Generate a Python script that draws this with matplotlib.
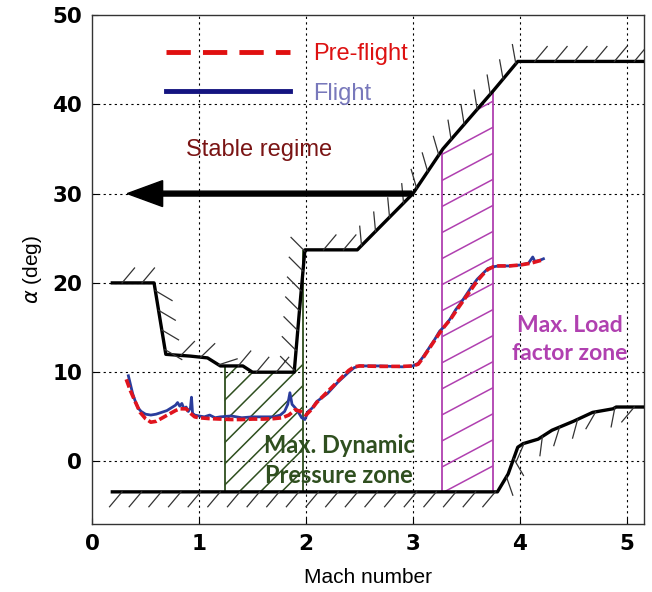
import numpy as np
import matplotlib
matplotlib.use("Agg")
import matplotlib.pyplot as plt
import matplotlib.patheffects as pe
from matplotlib.patches import Polygon
from matplotlib.lines import Line2D

plt.rcParams['font.family'] = ['Liberation Sans', 'DejaVu Sans']

# flight (blue) trace
flight_m = [0.34, 0.36, 0.38, 0.40, 0.43, 0.46, 0.50, 0.55, 0.60, 0.65, 0.70, 0.74, 0.78, 0.80,
            0.82, 0.84, 0.86, 0.88, 0.90, 0.92, 0.93, 0.94, 0.96, 1.00, 1.05, 1.10, 1.15, 1.20,
            1.30, 1.40, 1.50, 1.60, 1.70, 1.76, 1.80, 1.83, 1.85, 1.87, 1.90, 1.93, 1.96, 1.99,
            2.02, 2.06, 2.10, 2.20, 2.30, 2.40, 2.45, 2.50, 2.70, 2.90, 3.00, 3.05, 3.10, 3.15,
            3.20, 3.25, 3.30, 3.35, 3.40, 3.45, 3.50, 3.55, 3.60, 3.65, 3.70, 3.75, 3.80, 3.90,
            4.00, 4.08, 4.12, 4.14, 4.18, 4.22]
flight_a = [9.6, 8.6, 7.6, 6.9, 6.0, 5.6, 5.3, 5.2, 5.3, 5.5, 5.7, 6.0, 6.3, 6.6,
            6.2, 6.5, 5.9, 6.1, 5.6, 6.0, 7.2, 5.4, 5.2, 5.1, 5.0, 5.2, 4.9, 5.0,
            5.1, 4.9, 5.0, 5.0, 5.0, 5.2, 5.6, 6.4, 7.7, 6.4, 6.0, 5.5, 4.9, 4.7,
            5.6, 6.0, 6.7, 7.6, 8.9, 10.0, 10.5, 10.7, 10.7, 10.6, 10.7, 11.0, 11.8, 12.7,
            13.6, 14.6, 15.2, 16.0, 17.0, 17.8, 18.7, 19.6, 20.4, 21.0, 21.6, 21.8, 21.9, 21.9,
            22.0, 22.2, 22.9, 22.4, 22.5, 22.7]

# pre-flight (red) prediction
pre_m = [0.32, 0.36, 0.40, 0.45, 0.50, 0.55, 0.60, 0.66, 0.72, 0.78, 0.82, 0.88, 0.92, 0.96,
         1.00, 1.10, 1.20, 1.30, 1.40, 1.50, 1.60, 1.70, 1.78, 1.84, 1.90, 1.95, 2.00, 2.05,
         2.10, 2.20, 2.30, 2.40, 2.45, 2.50, 2.70, 2.90, 3.00, 3.05, 3.10, 3.15, 3.20, 3.25,
         3.30, 3.35, 3.40, 3.50, 3.60, 3.65, 3.70, 3.75, 3.80, 3.90, 4.00, 4.10, 4.16, 4.22]
pre_a = [9.2, 7.9, 6.8, 5.5, 4.8, 4.4, 4.5, 4.9, 5.3, 5.7, 5.9, 5.9, 5.4, 5.0,
         4.9, 4.8, 4.75, 4.7, 4.7, 4.75, 4.75, 4.8, 4.9, 5.2, 5.8, 5.6, 5.2, 5.8,
         6.6, 7.8, 9.0, 10.2, 10.6, 10.7, 10.65, 10.65, 10.7, 10.9, 11.7, 12.6, 13.5, 14.4,
         15.2, 15.9, 16.8, 18.5, 20.2, 20.9, 21.5, 21.8, 21.9, 21.9, 22.0, 22.2, 22.4, 22.6]

# stability limits
upper_m = [0.19, 0.58, 0.69, 0.92, 1.08, 1.20, 1.41, 1.50, 1.89, 1.94, 1.99, 2.48, 3.00, 3.28, 3.75, 3.98, 5.16]
upper_a = [20, 20, 12, 11.8, 11.6, 10.7, 10.7, 10, 10, 17, 23.7, 23.7, 30, 35, 41.5, 44.8, 44.8]
lower_m = [0.19, 3.79, 3.89, 3.98, 4.03, 4.17, 4.30, 4.50, 4.68, 4.87, 4.90, 5.16]
lower_a = [-3.4, -3.4, -1.4, 1.6, 2.0, 2.5, 3.5, 4.5, 5.5, 5.9, 6.1, 6.1]

# zones
dyn_m = [1.24, 1.41, 1.50, 1.89, 1.97]
dyn_top = [10.7, 10.7, 10.0, 10.0, 12.0]
load_m = [3.27, 3.75]
zone_floor = -3.4

fig = plt.figure(figsize=(6.52, 5.92), dpi=100)
ax = fig.add_axes([92/652, 68/592, 552/652, 509/592])
ax.set_xlim(0, 5.16)
ax.set_ylim(-7, 50)


def hatch_zone(ax, xs, top, bottom, color, angle, step):
    verts = list(zip(xs, top)) + [(xs[-1], bottom), (xs[0], bottom)]
    clip = Polygon(verts, closed=True, fc='none', ec='none')
    ax.add_patch(clip)
    p0 = ax.transData.transform((0, 0))
    p1 = ax.transData.transform((1, 1))
    sx, sy = p1 - p0
    slope = np.tan(np.radians(angle)) * sx / sy
    dy = step / np.cos(np.radians(angle)) / sy
    x0, x1 = xs[0], xs[-1]
    for c in np.arange(bottom - slope * (x1 - x0), max(top) + dy, dy):
        ln, = ax.plot([x0, x1], [c, c + slope * (x1 - x0)], color=color, lw=1.1, zorder=2)
        ln.set_clip_path(clip)


green = '#2f4f1f'
magenta = '#b040b0'
hatch_zone(ax, dyn_m, dyn_top, zone_floor, green, 45, 15)
ax.vlines(dyn_m[0], zone_floor, dyn_top[0], color=green, lw=1.3, zorder=2)
ax.vlines(dyn_m[-1], zone_floor, 23.7, color=green, lw=1.3, zorder=2)

load_top = list(np.interp(load_m, upper_m, upper_a))
hatch_zone(ax, load_m, load_top, zone_floor, magenta, 28, 23)
ax.vlines(load_m[0], zone_floor, load_top[0], color=magenta, lw=1.3, zorder=2)
ax.vlines(load_m[-1], zone_floor, load_top[-1], color=magenta, lw=1.3, zorder=2)

# grid
for v in [1, 2, 3, 4, 5]:
    ax.axvline(v, color='k', lw=0.8, ls=(0, (2, 3)), zorder=1)
for v in [0, 10, 20, 30, 40]:
    ax.axhline(v, color='k', lw=0.8, ls=(0, (2, 3)), zorder=1)

# limits with hatched ticks
ax.plot(upper_m, upper_a, color='k', lw=2.4, zorder=4)
ax.plot(upper_m, upper_a, color='k', lw=0, zorder=4,
        path_effects=[pe.TickedStroke(angle=50, spacing=14, length=1.0, linewidth=0.9, foreground='#333333')])
ax.plot(lower_m, lower_a, color='k', lw=2.4, zorder=4)
ax.plot(lower_m, lower_a, color='k', lw=0, zorder=4,
        path_effects=[pe.TickedStroke(angle=-130, spacing=14, length=1.0, linewidth=0.9, foreground='#333333')])

# stable regime arrow
ax.arrow(2.99, 30, -2.66, 0, width=0.55, head_width=2.9, head_length=0.33,
         length_includes_head=True, fc='k', ec='k', zorder=4)
ax.text(1.56, 34.9, 'Stable regime', color='#7a1414', fontsize=17, va='center', ha='center')

# traces
ax.plot(flight_m, flight_a, color='#2a3c9c', lw=2.0, zorder=5)
ax.plot(pre_m, pre_a, color='#e0141e', lw=2.6, dashes=(2.4, 0.9), zorder=6)

ax.text(2.31, 0.1, 'Max. Dynamic\nPressure zone', color=green, fontsize=17, fontweight='bold',
        ha='center', va='center', linespacing=1.4, family=['Lato', 'DejaVu Sans'])
ax.text(4.47, 13.7, 'Max. Load\nfactor zone', color=magenta, fontsize=16.5, fontweight='bold',
        ha='center', va='center', linespacing=1.4, family=['Lato', 'DejaVu Sans'])

handles = [Line2D([], [], color='#e01010', lw=3.5, dashes=(5, 2.5)),
           Line2D([], [], color='#141480', lw=3.5)]
ax.legend(handles, ['Pre-flight', 'Flight'], loc='upper left', bbox_to_anchor=(0.134, 0.945),
          frameon=False, fontsize=17, handlelength=5.25, handletextpad=1.0, labelspacing=0.75,
          borderpad=0, borderaxespad=0, labelcolor=['#dd1111', '#7878bb'])

ax.set_xticks([0, 1, 2, 3, 4, 5])
ax.set_yticks([0, 10, 20, 30, 40, 50])
ax.tick_params(direction='in', length=4, width=0.8, pad=7, labelsize=15.5)
plt.setp(ax.get_xticklabels() + ax.get_yticklabels(), fontweight='bold', family='DejaVu Sans')
for s in ax.spines.values():
    s.set_color('#333333')
    s.set_linewidth(1.0)

ax.set_xlabel('Mach number', fontsize=15, labelpad=10)
ax.set_ylabel(r'$\alpha$ (deg)', fontsize=15, labelpad=6)

fig.savefig('out.png', dpi=100)
